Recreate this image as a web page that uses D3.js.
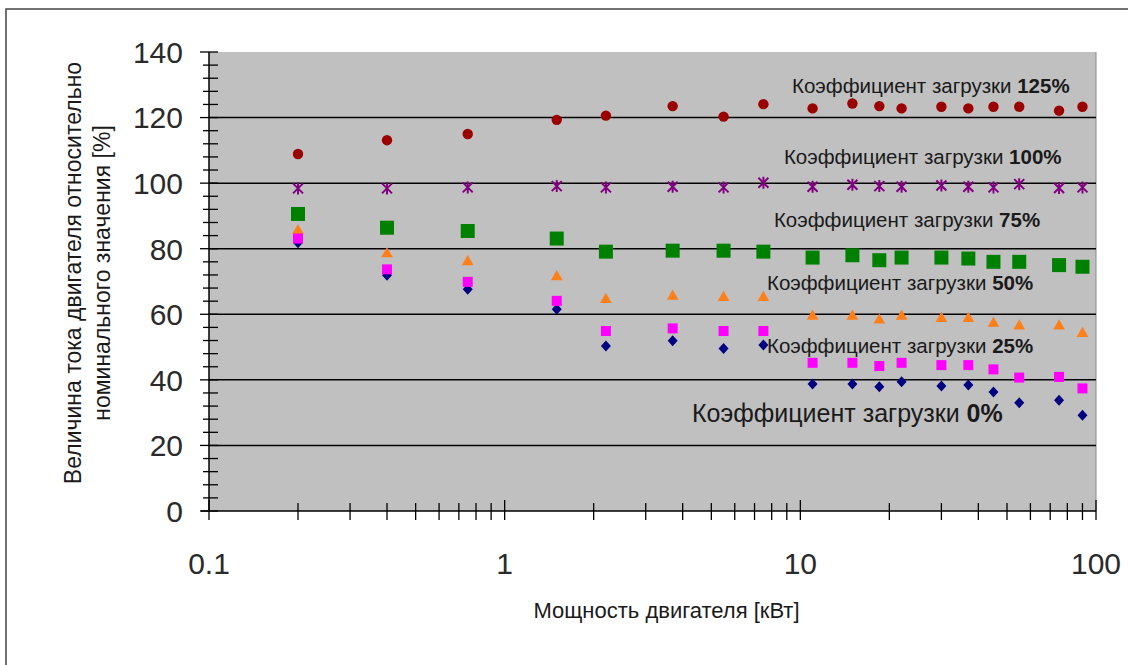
<!DOCTYPE html>
<meta charset="utf-8">
<style>
    body { margin: 0; background: #fff; }
    text { font-family: Arial, "Liberation Sans", sans-serif; fill: #1a1a1a; }
    .grid { stroke: #000; stroke-width: 1.5; }
    .axisline { stroke: #000; stroke-width: 1.5; }
    .tick { stroke: #000; stroke-width: 1.3; }
</style>
<body></body>
<script src="https://cdn.jsdelivr.net/npm/d3@7"></script>
<script>

    // motor power, kW (x)
    var power = [0.2, 0.4, 0.75, 1.5, 2.2, 3.7, 5.5, 7.5, 11, 15, 18.5, 22, 30, 37, 45, 55, 75, 90];

    // motor current relative to rated value, % (one array per load factor)
    var load125 = [108.9, 113.1, 115, 119.3, 120.6, 123.5, 120.3, 124.1, 122.8, 124.3, 123.5, 122.8, 123.3, 122.8, 123.3, 123.3, 122.1, 123.3];
    var load100 = [98.4, 98.4, 98.7, 99.1, 98.7, 98.9, 98.7, 100.1, 98.9, 99.5, 99.1, 98.9, 99.3, 98.9, 98.7, 99.7, 98.5, 98.7];
    var load75 = [90.6, 86.4, 85.4, 83.1, 79.1, 79.4, 79.4, 79.1, 77.3, 78, 76.5, 77.3, 77.3, 77, 76, 76, 75, 74.5];
    var load50 = [85.5, 78.4, 76, 71.4, 64.5, 65.5, 65.1, 65.1, 59.4, 59.4, 58.2, 59.4, 58.7, 58.7, 57.2, 56.4, 56.4, 54.1];
    var load25 = [83.1, 73.7, 69.9, 64.1, 54.9, 55.7, 54.9, 54.9, 45.2, 45.2, 44.2, 45.2, 44.5, 44.5, 43.2, 40.7, 40.9, 37.4];
    var load0 = [81.8, 71.9, 67.6, 61.5, 50.3, 51.9, 49.6, 50.6, 38.7, 38.7, 37.9, 39.4, 38.1, 38.4, 36.3, 33, 33.8, 29.2];

    var yMajor = [0, 20, 40, 60, 80, 100, 120, 140];
    var yGrid = [20, 40, 60, 80, 100, 120];
    var xMajor = [0.1, 1, 10, 100];
    var xLabels = ["0.1", "1", "10", "100"];

    // annotation labels: text, percent, anchor in data units
    var labelText = "Коэффициент загрузки";
    var labelPct = ["125%", "100%", "75%", "50%", "25%", "0%"];
    var labelX = [9.37, 8.8, 8.14, 7.71, 7.71, 4.3];
    var labelY = [127.5, 105.8, 86.6, 67.4, 48.1, 27.1];

    var W = 1128, H = 665;
    var margin = {top: 52, right: 32, bottom: 154, left: 209};
    var width = W - margin.left - margin.right,
        height = H - margin.top - margin.bottom;

    var x = d3.scaleLog().domain([0.1, 100]).range([0, width]);
    var y = d3.scaleLinear().domain([0, 140]).range([height, 0]);

    var root = d3.select("body").append("svg")
        .attr("width", W)
        .attr("height", H);

    // outer frame (top and left edges visible)
    root.append("path")
        .attr("d", "M6,665 L6,9 L1128,9")
        .attr("fill", "none")
        .attr("stroke", "#444")
        .attr("stroke-width", 1.5);

    var svg = root.append("g")
        .attr("transform", "translate(" + margin.left + "," + margin.top + ")");

    svg.append("rect")
        .attr("width", width)
        .attr("height", height)
        .attr("fill", "#c0c0c0");

    svg.append("line")
        .attr("x1", width).attr("x2", width)
        .attr("y1", 0).attr("y2", height)
        .attr("stroke", "#8a8a8a")
        .attr("stroke-width", 1);

    svg.selectAll(".grid")
        .data(yGrid)
        .enter().append("line")
        .attr("class", "grid")
        .attr("x1", 0).attr("x2", width)
        .attr("y1", function(d) { return y(d); })
        .attr("y2", function(d) { return y(d); });

    // y axis
    svg.append("line").attr("class", "axisline")
        .attr("x1", 0).attr("x2", 0).attr("y1", 0).attr("y2", height);

    svg.selectAll(".ytick")
        .data(d3.range(0, 141, 4))
        .enter().append("line")
        .attr("class", "tick")
        .attr("x1", function(d) { return d % 20 == 0 ? -9 : -6; })
        .attr("x2", 9)
        .attr("y1", function(d) { return y(d); })
        .attr("y2", function(d) { return y(d); });

    svg.selectAll(".ylab")
        .data(yMajor)
        .enter().append("text")
        .attr("x", -26)
        .attr("y", function(d) { return y(d); })
        .attr("dy", "0.36em")
        .attr("text-anchor", "end")
        .style("font-size", "30px")
        .style("fill", "#2a2a2a")
        .text(function(d) { return d; });

    // x axis
    svg.append("line").attr("class", "axisline")
        .attr("x1", -8).attr("x2", width).attr("y1", height).attr("y2", height);

    var xTicks = [];
    [0.1, 1, 10].forEach(function(dec) {
        d3.range(1, 10).forEach(function(m) { xTicks.push(dec * m); });
    });
    xTicks.push(100);

    svg.selectAll(".xtick")
        .data(xTicks)
        .enter().append("line")
        .attr("class", "tick")
        .attr("x1", function(d) { return x(d); })
        .attr("x2", function(d) { return x(d); })
        .attr("y1", function(d) { return xMajor.indexOf(d) >= 0 ? height - 11 : height - 8; })
        .attr("y2", height + 9);

    svg.selectAll(".xlab")
        .data(xMajor)
        .enter().append("text")
        .attr("x", function(d) { return x(d); })
        .attr("y", height + 63)
        .attr("text-anchor", "middle")
        .style("font-size", "30px")
        .style("fill", "#2a2a2a")
        .text(function(d, i) { return xLabels[i]; });

    svg.append("text")
        .attr("x", width / 2 + 14)
        .attr("y", height + 107)
        .attr("text-anchor", "middle")
        .style("font-size", "22px")
        .text("Мощность двигателя [кВт]");

    var yTitle = svg.append("text")
        .attr("transform", "rotate(-90)")
        .attr("text-anchor", "middle")
        .style("font-size", "23px");
    yTitle.append("tspan")
        .attr("x", -221).attr("y", -128)
        .text("Величина тока двигателя относительно");
    yTitle.append("tspan")
        .attr("x", -221).attr("y", -99)
        .text("номинального значения [%]");

    // series and markers
    var asterisk = "M-5,-5L5,5M-5,5L5,-5M0,-6L0,6";
    var diamond = "M0,-5.5L5,0L0,5.5L-5,0Z";
    var series = [
        {values: load125, color: "#9a0000", shape: d3.symbolCircle, size: 85},
        {values: load100, color: "#800080", path: asterisk},
        {values: load75, color: "#008000", shape: d3.symbolSquare, size: 196},
        {values: load0, color: "#000080", path: diamond},
        {values: load50, color: "#ff7f1a", shape: d3.symbolTriangle, size: 60},
        {values: load25, color: "#ff00ff", shape: d3.symbolSquare, size: 100}
    ];

    series.forEach(function(s) {
        var pts = power.map(function(p, i) { return {x: p, y: s.values[i]}; });
        var marks = svg.append("g").selectAll("path")
            .data(pts)
            .enter().append("path")
            .attr("transform", function(d) { return "translate(" + x(d.x) + "," + y(d.y) + ")"; });
        if (s.shape) {
            marks.attr("d", d3.symbol().type(s.shape).size(s.size))
                .attr("fill", s.color);
        } else if (s.path == asterisk) {
            marks.attr("d", s.path)
                .attr("fill", "none")
                .attr("stroke", s.color)
                .attr("stroke-width", 2);
        } else {
            marks.attr("d", s.path)
                .attr("fill", s.color);
        }
    });

    // load factor annotations
    labelPct.forEach(function(p, i) {
        var lab = svg.append("text")
            .attr("x", x(labelX[i]))
            .attr("y", y(labelY[i]))
            .style("font-size", i == 5 ? "25px" : "20.5px");
        lab.append("tspan").text(labelText + " ");
        lab.append("tspan").style("font-weight", "bold").text(p);
    });

</script>
